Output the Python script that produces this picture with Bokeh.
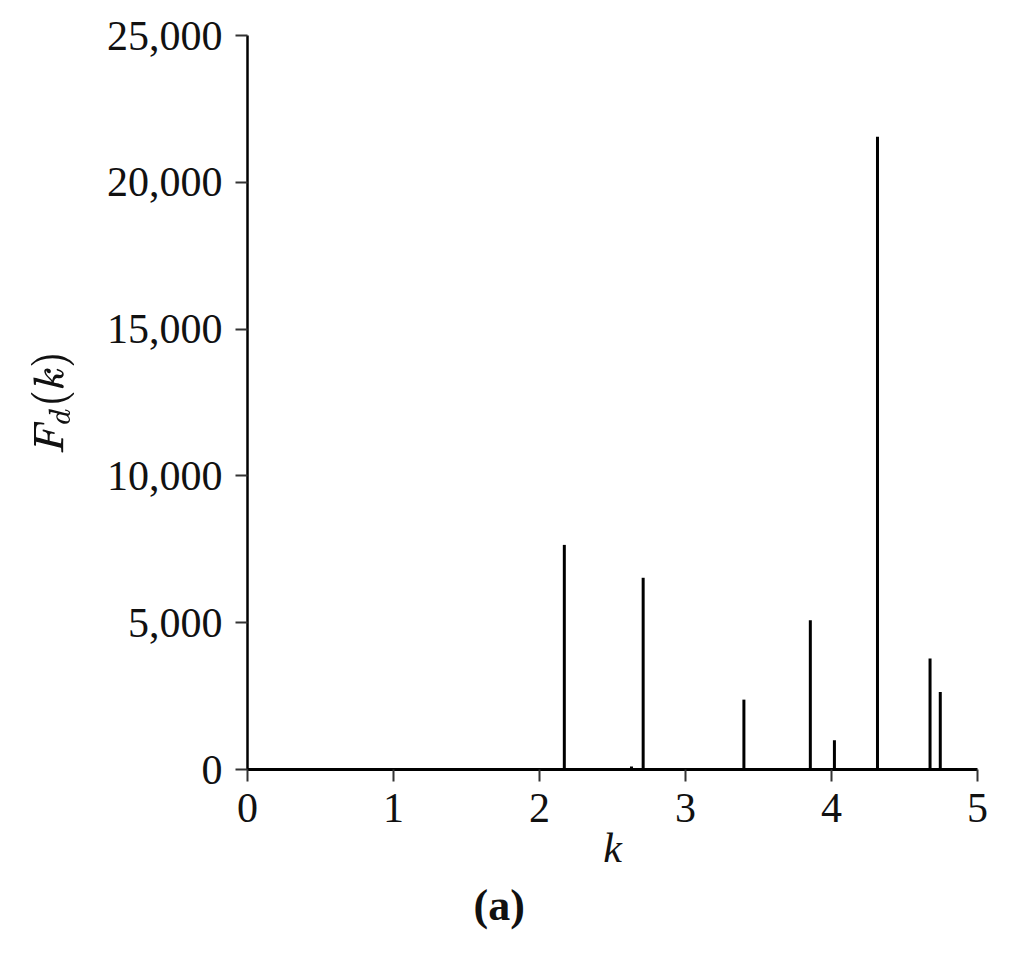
from bokeh.plotting import figure
from bokeh.models import Range1d, NumeralTickFormatter, FixedTicker, Title
from bokeh.embed import file_html
from bokeh.resources import INLINE

# data
k_vals = [2.17, 2.63, 2.71, 3.40, 3.855, 4.02, 4.315, 4.675, 4.745]
F_vals = [7650, 100, 6530, 2380, 5080, 1000, 21550, 3780, 2640]
x_ticks = [0, 1, 2, 3, 4, 5]
y_ticks = [0, 5000, 10000, 15000, 20000, 25000]
zeros = [0] * len(k_vals)

SERIF = "Liberation Serif"

p = figure(width=999, height=934, output_backend="svg", toolbar_location=None,
           x_range=Range1d(0, 5), y_range=Range1d(0, 25000),
           min_border_left=247, min_border_right=22, min_border_top=35, min_border_bottom=20)
p.outline_line_color = None
p.grid.visible = False
p.background_fill_color = "white"
p.border_fill_color = "white"

p.segment(x0=k_vals, y0=zeros, x1=k_vals, y1=F_vals, line_color="black", line_width=3)

for ax, w in ((p.xaxis, 3), (p.yaxis, 2.5)):
    ax.axis_line_width = w
    ax.axis_line_color = "black"
    ax.major_tick_line_width = 2
    ax.major_tick_line_color = "#333333"
    ax.major_tick_out = 12
    ax.major_tick_in = 0
    ax.minor_tick_line_color = None
    ax.major_label_text_font = SERIF
    ax.major_label_text_font_size = "42px"
    ax.major_label_text_color = "#111111"

p.xaxis.ticker = FixedTicker(ticks=x_ticks)
p.yaxis.ticker = FixedTicker(ticks=y_ticks)
p.yaxis.formatter = NumeralTickFormatter(format="0,0")
p.xaxis.major_label_standoff = 12
p.yaxis.major_label_standoff = 13

p.xaxis.axis_label = "k"
p.xaxis.axis_label_text_font = SERIF
p.xaxis.axis_label_text_font_style = "italic"
p.xaxis.axis_label_text_font_size = "42px"
p.xaxis.axis_label_text_color = "#111111"
p.xaxis.axis_label_standoff = 0

p.yaxis.axis_label = r"$$F_d(k)$$"
p.yaxis.axis_label_text_font_size = "35px"
p.yaxis.axis_label_text_color = "#111111"
p.yaxis.axis_label_standoff = 30

cap = Title(text="(a)", align="left", offset=226, text_font=SERIF,
            text_font_size="44px", text_font_style="bold", text_color="#111111",
            standoff=10)
p.add_layout(cap, "below")

open("out.html", "w").write(file_html(p, INLINE))
